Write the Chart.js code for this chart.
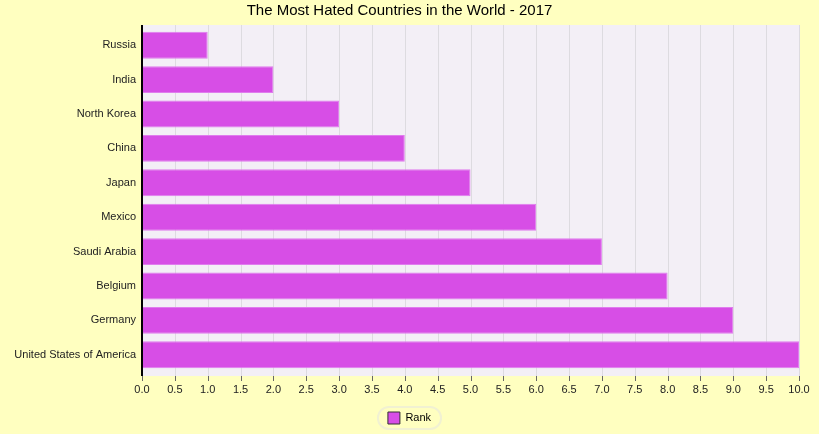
<!DOCTYPE html>
<html>
<head>
<meta charset="utf-8">
<script src="https://cdn.jsdelivr.net/npm/chart.js@4/dist/chart.umd.min.js"></script>
<style>
	html, body { margin: 0; padding: 0; background: #ffffc0; }
	#wrap { width: 819px; height: 434px; }
</style>
</head>
<body>
<div id="wrap"><canvas id="rankChart" width="819" height="434"></canvas></div>
<script>
// chart data
const countries = ["Russia", "India", "North Korea", "China", "Japan", "Mexico", "Saudi Arabia", "Belgium", "Germany", "United States of America"];
const rankValues = [1, 2, 3, 4, 5, 6, 7, 8, 9, 10];
const seriesName = "Rank";
const chartTitle = "The Most Hated Countries in the World - 2017";

const FONT = "'Liberation Sans', Arial, sans-serif";
const LEGEND_PAD = 8;

// lavender plot area, grid lines and tick marks drawn slightly past the category band
const plotBackground = {
	id: "plotBackground",
	afterUpdate(chart) {
		// legend sits centred on the whole canvas, not on the padded area
		const legend = chart.legend;
		if (!legend) return;
		legend.left += 10;
		legend.right += 10;
		legend.adjustHitBoxes();
	},
	beforeDatasetsDraw(chart) {
		const { ctx, chartArea } = chart;
		const x = chart.scales.x;
		const top = chartArea.top - 3;
		const bottom = chartArea.bottom + 4;
		ctx.save();
		ctx.fillStyle = "#f3eff6";
		ctx.fillRect(chartArea.left, top, chartArea.right - chartArea.left, bottom - top);
		ctx.lineWidth = 1;
		x.ticks.forEach((t) => {
			const px = Math.round(x.getPixelForValue(t.value)) + 0.5;
			ctx.strokeStyle = "#dddbe0";
			ctx.beginPath();
			ctx.moveTo(px, top);
			ctx.lineTo(px, bottom);
			ctx.stroke();
			ctx.strokeStyle = "#666";
			ctx.beginPath();
			ctx.moveTo(px, bottom);
			ctx.lineTo(px, bottom + 5);
			ctx.stroke();
		});
		ctx.restore();
	},
	afterDatasetsDraw(chart) {
		const { ctx, chartArea } = chart;
		ctx.save();
		ctx.strokeStyle = "#000";
		ctx.lineWidth = 2;
		ctx.beginPath();
		ctx.moveTo(chartArea.left, chartArea.top - 3);
		ctx.lineTo(chartArea.left, chartArea.bottom + 4);
		ctx.stroke();
		ctx.restore();
	},
	afterDraw(chart) {
		const legend = chart.legend;
		const boxes = legend?.legendHitBoxes;
		if (!boxes || !boxes.length) return;
		const b = boxes[0];
		const { ctx } = chart;
		// hitbox.top accumulates on repeated adjustHitBoxes calls, so take it from the legend box
		const itemTop = legend.top + LEGEND_PAD;
		const x = b.left - 10, y = itemTop - 5, w = b.width + 20, h = b.height + 10;
		ctx.save();
		ctx.strokeStyle = "#f1f1d2";
		ctx.lineWidth = 2;
		ctx.beginPath();
		ctx.roundRect(x, y, w, h, h / 2);
		ctx.stroke();
		ctx.restore();
	},
};

new Chart(document.getElementById("rankChart"), {
	type: "bar",
	data: {
		labels: countries,
		datasets: [
			{
				label: seriesName,
				data: rankValues,
				backgroundColor: "#d74ee6",
				borderColor: "#e07cee",
				borderWidth: 1,
				borderSkipped: false,
				barPercentage: 0.9,
				categoryPercentage: 0.87,
			},
		],
	},
	options: {
		indexAxis: "y",
		responsive: false,
		animation: false,
		layout: { padding: { left: 0, right: 20, top: 0, bottom: 0 } },
		scales: {
			x: {
				min: 0,
				max: 10,
				grid: { display: false, drawTicks: true, tickLength: 11 },
				border: { display: false },
				afterFit: (scale) => {
					scale.height = 32;
				},
				ticks: {
					stepSize: 0.5,
					padding: 0,
					color: "#222",
					font: { family: FONT, size: 11 },
					maxRotation: 0,
					autoSkip: false,
					callback: (v) => Number(v).toFixed(1),
				},
			},
			y: {
				grid: { display: false, drawTicks: false },
				border: { display: false },
				afterFit: (scale) => {
					scale.width = 142;
				},
				ticks: {
					padding: 6,
					color: "#222",
					font: { family: FONT, size: 11 },
				},
			},
		},
		plugins: {
			title: {
				display: true,
				text: chartTitle,
				color: "#000",
				font: { family: FONT, size: 15, weight: "normal" },
				padding: { top: 2, bottom: 8 },
			},
			legend: {
				position: "bottom",
				labels: {
					color: "#222",
					boxWidth: 12,
					boxHeight: 12,
					padding: LEGEND_PAD,
					font: { family: FONT, size: 11 },
					generateLabels: (chart) => [
						{
							text: seriesName,
							fillStyle: "#d74ee6",
							strokeStyle: "#333",
							lineWidth: 1,
							datasetIndex: 0,
						},
					],
				},
			},
			tooltip: { enabled: false },
		},
	},
	plugins: [plotBackground],
});
</script>
</body>
</html>
